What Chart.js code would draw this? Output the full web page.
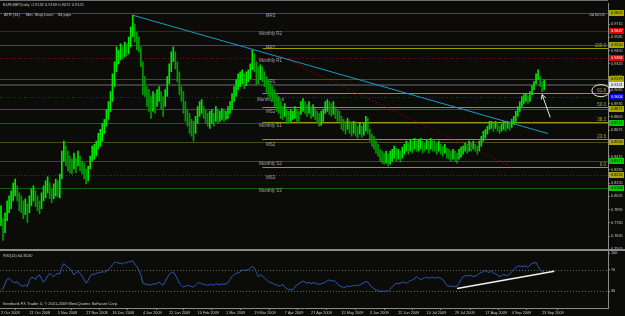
<!DOCTYPE html>
<html>
<head>
<meta charset="utf-8">
<script src="https://cdn.jsdelivr.net/npm/chart.js@4.4.1/dist/chart.umd.min.js"></script>
<style>
  html, body { margin: 0; padding: 0; background: #0b0b08; }
  #wrap { position: relative; width: 625px; height: 316px; }
</style>
</head>
<body>
<div id="wrap"><canvas id="chart" width="625" height="316"></canvas></div>
<script>
// EURGBP daily bars, Oct 2008 - Sep 2009
const highs = [
  0.7932,0.7806,0.7864,0.7981,0.8030,0.8078,0.8156,0.8195,0.8127,0.8059,
  0.8030,0.7981,0.8001,0.7952,0.8030,0.8098,0.8127,0.8078,0.8030,0.7981,
  0.8059,0.8127,0.8176,0.8215,0.8156,0.8098,0.8147,0.8195,0.8176,0.8244,
  0.8468,0.8566,0.8517,0.8468,0.8419,0.8390,0.8449,0.8400,0.8468,0.8419,
  0.8371,0.8351,0.8293,0.8322,0.8419,0.8517,0.8536,0.8566,0.8643,0.8682,
  0.8741,0.8780,0.8877,0.8955,0.9052,0.9228,0.9345,0.9491,0.9461,0.9520,
  0.9491,0.9539,0.9520,0.9588,0.9686,0.9802,0.9715,0.9637,0.9588,0.9491,
  0.9345,0.9199,0.9101,0.9072,0.9004,0.9052,0.9033,0.9072,0.9101,0.9052,
  0.9004,0.9072,0.9199,0.9325,0.9442,0.9491,0.9442,0.9345,0.9247,0.9101,
  0.9052,0.8955,0.8877,0.8838,0.8780,0.8760,0.8809,0.8906,0.8955,0.8975,
  0.8906,0.8877,0.8838,0.8858,0.8877,0.8838,0.8906,0.8877,0.8858,0.8887,
  0.8877,0.8858,0.8906,0.8955,0.9033,0.9101,0.9169,0.9228,0.9247,0.9267,
  0.9228,0.9247,0.9267,0.9325,0.9461,0.9423,0.9345,0.9296,0.9315,0.9296,
  0.9247,0.9199,0.9169,0.9130,0.9101,0.9072,0.9033,0.9004,0.8955,0.8906,
  0.8936,0.8877,0.8858,0.8877,0.8858,0.8906,0.8877,0.8858,0.8955,0.8984,
  0.8955,0.8926,0.8955,0.8906,0.8926,0.8887,0.8858,0.8838,0.8858,0.8877,
  0.8955,0.8975,0.8955,0.8936,0.8955,0.8906,0.8877,0.8858,0.8809,0.8780,
  0.8760,0.8789,0.8760,0.8741,0.8760,0.8731,0.8712,0.8741,0.8712,0.8741,
  0.8809,0.8789,0.8682,0.8634,0.8614,0.8566,0.8536,0.8487,0.8468,0.8449,
  0.8468,0.8439,0.8468,0.8487,0.8517,0.8497,0.8487,0.8468,0.8507,0.8536,
  0.8566,0.8546,0.8585,0.8566,0.8595,0.8566,0.8585,0.8595,0.8566,0.8546,
  0.8585,0.8566,0.8595,0.8585,0.8566,0.8546,0.8566,0.8536,0.8517,0.8536,
  0.8497,0.8487,0.8468,0.8487,0.8468,0.8449,0.8487,0.8507,0.8517,0.8546,
  0.8536,0.8566,0.8546,0.8566,0.8536,0.8517,0.8566,0.8614,0.8663,0.8682,
  0.8712,0.8760,0.8760,0.8741,0.8760,0.8731,0.8712,0.8731,0.8760,0.8741,
  0.8760,0.8741,0.8780,0.8809,0.8858,0.8906,0.8955,0.9004,0.9023,0.9033,
  0.9013,0.9052,0.9111,0.9150,0.9228,0.9267,0.9199,0.9150,0.9169
];
const lows = [
  0.7738,0.7591,0.7669,0.7786,0.7864,0.7903,0.7981,0.8030,0.7981,0.7884,
  0.7864,0.7806,0.7845,0.7767,0.7864,0.7932,0.7981,0.7923,0.7884,0.7854,
  0.7903,0.7981,0.8010,0.8059,0.8001,0.7962,0.8001,0.8030,0.8020,0.8010,
  0.8195,0.8371,0.8322,0.8273,0.8254,0.8244,0.8293,0.8254,0.8322,0.8273,
  0.8244,0.8195,0.8147,0.8176,0.8293,0.8371,0.8390,0.8419,0.8487,0.8517,
  0.8566,0.8643,0.8712,0.8780,0.8858,0.8955,0.9101,0.9247,0.9325,0.9364,
  0.9374,0.9393,0.9403,0.9423,0.9491,0.9588,0.9539,0.9461,0.9442,0.9296,
  0.9023,0.9004,0.8906,0.8858,0.8789,0.8858,0.8838,0.8906,0.8955,0.8877,
  0.8809,0.8906,0.9004,0.9130,0.9247,0.9345,0.9276,0.9150,0.9023,0.8955,
  0.8838,0.8760,0.8712,0.8643,0.8614,0.8566,0.8643,0.8741,0.8809,0.8838,
  0.8789,0.8741,0.8712,0.8692,0.8741,0.8712,0.8760,0.8741,0.8760,0.8780,
  0.8760,0.8780,0.8789,0.8838,0.8877,0.8955,0.9004,0.9072,0.9101,0.9130,
  0.9082,0.9111,0.9150,0.9179,0.9267,0.9247,0.9121,0.9130,0.9169,0.9150,
  0.9101,0.9033,0.9004,0.8984,0.8955,0.8906,0.8858,0.8838,0.8789,0.8780,
  0.8809,0.8741,0.8741,0.8760,0.8780,0.8789,0.8760,0.8741,0.8828,0.8858,
  0.8838,0.8809,0.8838,0.8789,0.8809,0.8780,0.8741,0.8712,0.8721,0.8760,
  0.8838,0.8858,0.8828,0.8809,0.8828,0.8789,0.8760,0.8760,0.8682,0.8663,
  0.8634,0.8682,0.8643,0.8614,0.8643,0.8614,0.8595,0.8634,0.8604,0.8624,
  0.8663,0.8643,0.8566,0.8517,0.8487,0.8449,0.8419,0.8371,0.8351,0.8341,
  0.8351,0.8322,0.8341,0.8371,0.8400,0.8371,0.8390,0.8361,0.8400,0.8439,
  0.8468,0.8439,0.8468,0.8449,0.8487,0.8468,0.8468,0.8487,0.8449,0.8468,
  0.8487,0.8449,0.8487,0.8468,0.8468,0.8439,0.8468,0.8439,0.8419,0.8449,
  0.8400,0.8390,0.8371,0.8390,0.8371,0.8351,0.8390,0.8410,0.8439,0.8468,
  0.8449,0.8468,0.8468,0.8487,0.8468,0.8439,0.8468,0.8517,0.8566,0.8595,
  0.8634,0.8682,0.8692,0.8663,0.8692,0.8663,0.8643,0.8663,0.8682,0.8663,
  0.8692,0.8673,0.8702,0.8731,0.8760,0.8809,0.8858,0.8906,0.8936,0.8955,
  0.8936,0.8955,0.9023,0.9072,0.9130,0.9169,0.9101,0.9052,0.9072
];
// RSI(14) sub-window
const rsi = [
  32,35,45,52,54,50,47,46,48,43,
  41,40,42,39,50,56,55,52,58,60,
  53,47,52,58,63,60,57,61,63,62,
  74,81,77,74,72,66,60,64,67,63,
  58,52,45,50,58,62,61,63,64,65,
  66,65,67,70,74,79,83,84,81,82,
  80,83,82,84,85,86,80,76,69,60,
  45,44,42,43,41,44,43,45,47,44,
  42,48,55,61,64,66,60,53,45,41,
  38,40,41,40,39,38,42,45,46,44,
  43,42,41,42,43,41,44,43,42,44,
  43,44,46,52,57,61,63,64,66,70,
  68,69,70,72,76,73,65,57,60,58,
  55,51,48,46,45,43,42,40,41,43,
  38,35,33,34,33,38,42,44,47,49,
  47,45,47,44,46,45,44,43,44,45,
  47,50,51,49,50,48,44,40,39,37,
  38,40,39,40,41,40,42,41,44,46,
  48,47,42,38,35,33,31,30,31,30,
  31,30,34,38,42,45,44,45,47,46,
  45,47,50,51,53,57,54,52,53,55,
  56,54,55,56,54,55,56,54,52,46,
  41,40,39,40,38,40,45,52,57,59,
  58,60,59,57,58,60,63,65,66,68,
  66,65,67,64,62,60,57,59,61,60,
  59,62,66,70,74,76,77,75,76,77,
  74,78,81,82,83,76,69,67,64.8
];
const totalBars = 300; // data bars plus the empty shift on the right

// date axis
const tickBars = [0, 14, 28, 42, 55, 70, 83, 97, 111, 125, 140, 153, 168, 182, 196, 210, 224, 239, 252, 267];
const tickLabels = ["2 Oct 2008", "21 Oct 2008", "5 Nov 2008", "27 Nov 2008", "16 Dec 2008", "4 Jan 2009",
  "22 Jan 2009", "10 Feb 2009", "1 Mar 2009", "19 Mar 2009", "7 Apr 2009", "27 Apr 2009", "15 May 2009",
  "3 Jun 2009", "22 Jun 2009", "10 Jul 2009", "29 Jul 2009", "17 Aug 2009", "4 Sep 2009", "23 Sep 2009"];
const priceTicks = [0.9715, 0.9585, 0.9455, 0.9325, 0.9195, 0.9065, 0.8935, 0.8805, 0.8675,
  0.8545, 0.8415, 0.8285, 0.8155, 0.8025, 0.7895, 0.7765, 0.7635, 0.7505];
const rsiTicks = [100, 70, 30];
const rsiLevels = [70, 30];

// monthly pivot indicator
const pivotNames = ["MR3", "Monthly R2", "MR2", "Monthly R1", "MR1", "Monthly Pivot",
  "MS1", "Monthly S1", "MS2", "Monthly S2", "MS3", "Monthly S3"];
const pivotLevels = [0.9822, 0.9647, 0.9510, 0.9384, 0.9179, 0.9004,
  0.8877, 0.8741, 0.8556, 0.8371, 0.8234, 0.8108];
const pivotKinds = ["mid", "res", "mid", "res", "mid", "piv", "mid", "sup", "mid", "sup", "mid", "sup"];
const pivotLabelBar = 133;

// fibonacci retracement
const fibNames = ["100.0", "61.8", "50.0", "38.2", "23.6", "0.0"];
const fibLevels = [0.9481, 0.9034, 0.8897, 0.8759, 0.8588, 0.8312];
const fibBars = [129, 252];

// hand drawn objects
const trendBars = [65, 270];
const trendPrices = [0.9802, 0.8640];
const arrowBars = [271, 267];
const arrowPrices = [0.8799, 0.9023];
const circleBar = 296;
const circlePrice = 0.9062;
const rsiTrendBars = [225, 273];
const rsiTrendValues = [35.5, 66.9];
const lastPrice = 0.9121;

const kindStyle = {
  mid: { line: "#4c4c1c", box: "#a8a800", text: "#000" },
  res: { line: "#7c0a0a", box: "#e00000", text: "#fff" },
  piv: { line: "#2020a8", box: "#0000e8", text: "#fff" },
  sup: { line: "#0a660a", box: "#00cc00", text: "#000" }
};
const dotted = ["Monthly R1", "Monthly Pivot", "MS3"];
const fam = '"Liberation Sans", Arial, sans-serif';
const labelFont = "4.5px " + fam;
const headFont = "4px " + fam;
const boxFont = "3.8px " + fam;

const barColors = highs.map((h, i) =>
  i > 0 && h + lows[i] < highs[i - 1] + lows[i - 1] ? "#009c00" : "#00e600");

function line(ctx, x1, y1, x2, y2, color, width, dash) {
  ctx.strokeStyle = color;
  ctx.lineWidth = width;
  ctx.setLineDash(dash || []);
  ctx.beginPath();
  ctx.moveTo(x1, y1);
  ctx.lineTo(x2, y2);
  ctx.stroke();
  ctx.setLineDash([]);
}

function axisBox(ctx, a, yy, value, fill, color) {
  ctx.fillStyle = fill;
  ctx.fillRect(a.right + 1, Math.round(yy) - 3, 15, 6);
  ctx.fillStyle = color;
  ctx.textAlign = "left";
  ctx.textBaseline = "middle";
  ctx.fillText(value.toFixed(4), a.right + 3, Math.round(yy));
}

const mt4Objects = {
  id: "mt4Objects",
  beforeDatasetsDraw(chart) {
    const { ctx, chartArea: a, scales: { x, y, yRsi } } = chart;
    ctx.save();
    ctx.font = labelFont;

    // pivot levels across the whole window
    pivotLevels.forEach((p, k) => {
      const py = Math.round(y.getPixelForValue(p)) + 0.5;
      const st = kindStyle[pivotKinds[k]];
      const dash = dotted.includes(pivotNames[k]) ? [1, 2] : [];
      const col = pivotNames[k] === "MS3" ? "#3c3c3c" : st.line;
      line(ctx, a.left, py, a.right, py, col, 1, dash);
      ctx.fillStyle = "#a8a8a8";
      ctx.textAlign = "center";
      ctx.textBaseline = "top";
      ctx.fillText(pivotNames[k], x.getPixelForValue(pivotLabelBar), py + 0.5);
    });

    // fibo levels, from the first anchor to the right edge
    const fx = x.getPixelForValue(fibBars[0]);
    fibLevels.forEach((p, k) => {
      const py = Math.round(y.getPixelForValue(p)) + 0.5;
      line(ctx, fx, py, a.right, py, "#9a9a08", 1);
      ctx.fillStyle = "#b0b020";
      ctx.textAlign = "right";
      ctx.textBaseline = "bottom";
      ctx.fillText(fibNames[k], a.right - 2, py - 0.5);
    });

    // bid line
    const by = Math.round(y.getPixelForValue(lastPrice));
    line(ctx, a.left, by, a.right, by, "#3c3c3c", 2);

    // RSI levels
    rsiLevels.forEach(v => {
      const py = Math.round(yRsi.getPixelForValue(v)) + 0.5;
      line(ctx, a.left, py, a.right, py, "#6a6a6a", 1, [1, 2]);
    });
    ctx.restore();
  },
  afterDatasetsDraw(chart) {
    const { ctx, chartArea: a, scales: { x, y, yRsi } } = chart;
    ctx.save();

    // fibo anchor line
    line(ctx, x.getPixelForValue(fibBars[0]), y.getPixelForValue(fibLevels[0]),
      x.getPixelForValue(fibBars[1]), y.getPixelForValue(fibLevels[5]), "#a00000", 1, [1, 2]);

    // falling trend line from the December high
    line(ctx, x.getPixelForValue(trendBars[0]), y.getPixelForValue(trendPrices[0]),
      x.getPixelForValue(trendBars[1]), y.getPixelForValue(trendPrices[1]), "#1c9cc4", 1);

    // arrow
    const ax1 = x.getPixelForValue(arrowBars[0]), ay1 = y.getPixelForValue(arrowPrices[0]);
    const ax2 = x.getPixelForValue(arrowBars[1]), ay2 = y.getPixelForValue(arrowPrices[1]);
    line(ctx, ax1, ay1, ax2, ay2, "#e8e8e8", 1);
    const ang = Math.atan2(ay2 - ay1, ax2 - ax1);
    [0.5, -0.5].forEach(d => {
      line(ctx, ax2, ay2, ax2 - 5 * Math.cos(ang + d), ay2 - 5 * Math.sin(ang + d), "#e8e8e8", 1);
    });

    // ellipse round the 61.8 label
    ctx.strokeStyle = "#e8e8e8";
    ctx.lineWidth = 1;
    ctx.beginPath();
    ctx.ellipse(x.getPixelForValue(circleBar), y.getPixelForValue(circlePrice), 9, 6, 0, 0, Math.PI * 2);
    ctx.stroke();

    // RSI trend line
    line(ctx, x.getPixelForValue(rsiTrendBars[0]), yRsi.getPixelForValue(rsiTrendValues[0]),
      x.getPixelForValue(rsiTrendBars[1]), yRsi.getPixelForValue(rsiTrendValues[1]), "#f0f0f0", 1.5);

    // frame: top line and window separator
    ctx.fillStyle = "#6e6e6e";
    ctx.fillRect(0, 0, a.right, 1);
    ctx.fillStyle = "#8c8c8c";
    ctx.fillRect(0, Math.round(y.bottom) - 1, a.right + 17, 2);

    // price boxes on the axis
    ctx.font = boxFont;
    pivotLevels.forEach((p, k) => {
      const st = kindStyle[pivotKinds[k]];
      axisBox(ctx, a, y.getPixelForValue(p), p, st.box, st.text);
    });
    axisBox(ctx, a, y.getPixelForValue(lastPrice), lastPrice, "#e8e8e8", "#000");

    // window texts
    ctx.font = headFont;
    ctx.fillStyle = "#c8c8c8";
    ctx.textAlign = "left";
    ctx.textBaseline = "middle";
    ctx.fillText("EURGBP,Daily  0.9132 0.9169 0.9072 0.9121", 3, 5);
    ctx.fillText("ATR (14)", 4, 15);
    ctx.fillText("Min. Stop Loss:", 26, 15);
    ctx.fillText("84 pips", 58, 15);
    ctx.fillText("RSI(14) 64.8130", 3, Math.round(y.bottom) + 6);
    ctx.fillText("Interbank FX Trader 4, \u00a9 2001-2009 MetaQuotes Software Corp.", 3, a.bottom - 4);
    ctx.textAlign = "right";
    ctx.fillText("0d 00:01", a.right - 3, 15);
    ctx.restore();
  }
};

const axisColor = "#8a8a8a";
const tickFont = { size: 3.8, family: fam };

new Chart(document.getElementById("chart"), {
  data: {
    labels: Array.from({ length: totalBars }, (_, i) => i),
    datasets: [
      {
        type: "bar",
        data: highs.map((h, i) => [lows[i], h]),
        backgroundColor: barColors,
        barThickness: 1,
        yAxisID: "y",
        order: 2
      },
      {
        type: "line",
        data: rsi,
        borderColor: "#2c5cb0",
        borderWidth: 1,
        pointRadius: 0,
        tension: 0,
        yAxisID: "yRsi",
        order: 1
      }
    ]
  },
  options: {
    responsive: false,
    animation: false,
    devicePixelRatio: 1,
    layout: { padding: { top: 1, left: 0, right: 0, bottom: 0 } },
    plugins: { legend: { display: false }, tooltip: { enabled: false } },
    scales: {
      x: {
        type: "category",
        grid: { drawOnChartArea: false, tickLength: 2, color: axisColor },
        border: { color: axisColor },
        ticks: {
          autoSkip: false, maxRotation: 0, align: "start", padding: 1,
          color: "#c8c8c8", font: tickFont,
          callback: v => tickLabels[tickBars.indexOf(v)]
        },
        afterBuildTicks: s => { s.ticks = tickBars.map(v => ({ value: v })); },
        afterFit: s => { s.height = 8; }
      },
      y: {
        position: "right",
        stack: "panes",
        stackWeight: 249,
        min: 0.7494,
        max: 0.9919,
        grid: { drawOnChartArea: false, tickLength: 2, color: axisColor },
        border: { color: axisColor },
        ticks: {
          autoSkip: false, padding: 1, color: "#c8c8c8", font: tickFont,
          callback: v => v.toFixed(4)
        },
        afterBuildTicks: s => { s.ticks = priceTicks.map(v => ({ value: v })); },
        afterFit: s => { s.width = 17; }
      },
      yRsi: {
        position: "right",
        stack: "panes",
        stackWeight: 58,
        min: -0.3,
        max: 105,
        grid: { drawOnChartArea: false, tickLength: 2, color: axisColor },
        border: { color: axisColor },
        ticks: { autoSkip: false, padding: 1, color: "#c8c8c8", font: tickFont },
        afterBuildTicks: s => { s.ticks = rsiTicks.map(v => ({ value: v })); },
        afterFit: s => { s.width = 17; }
      }
    }
  },
  plugins: [mt4Objects]
});
</script>
</body>
</html>
